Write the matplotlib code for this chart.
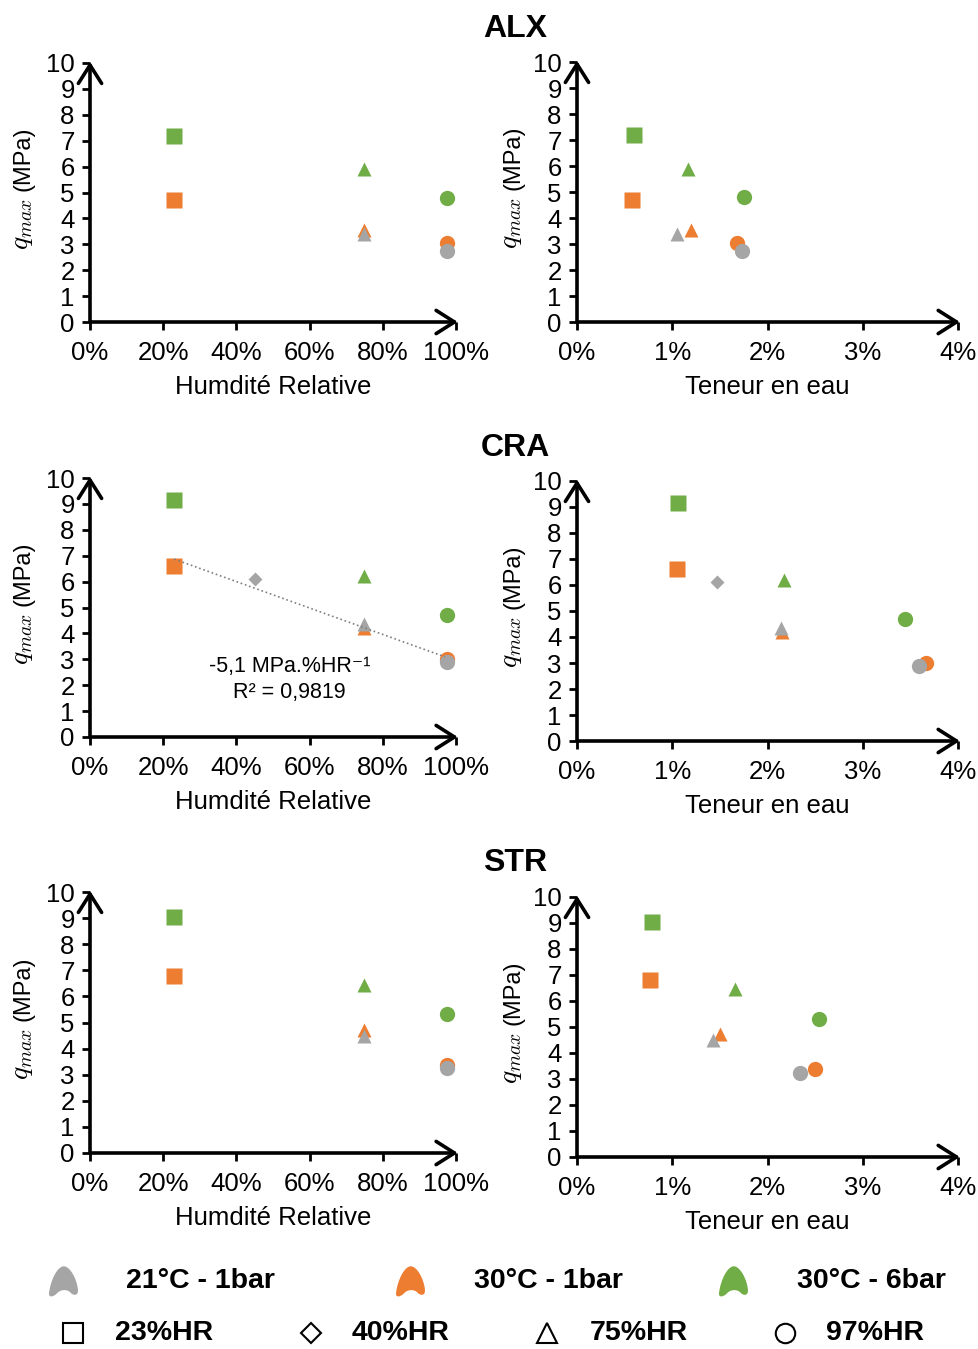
import numpy as np
import matplotlib.pyplot as plt
from matplotlib.path import Path
from matplotlib.ticker import PercentFormatter, MultipleLocator

plt.rcParams['font.family'] = ['Liberation Sans', 'DejaVu Sans']

nan = np.nan

# Series definitions
materials = ['ALX', 'CRA', 'STR']
conditions = ['21°C - 1bar', '30°C - 1bar', '30°C - 6bar']
condition_colors = ['#A5A5A5', '#ED7D31', '#70AD47']
hr_labels = ['23%HR', '40%HR', '75%HR', '97%HR']
hr_markers = ['s', 'D', '^', 'o']
hr_values = [0.23, 0.45, 0.75, 0.975]   # humidité relative measured

# q_max (MPa) : rows = conditions (21°C-1bar, 30°C-1bar, 30°C-6bar), cols = HR levels
q_alx = [[nan, nan, 3.4, 2.75], [4.7, nan, 3.55, 3.05], [7.2, nan, 5.9, 4.8]]
q_cra = [[nan, 6.1, 4.35, 2.9], [6.6, nan, 4.2, 3.0], [9.15, nan, 6.2, 4.7]]
q_str = [[nan, nan, 4.5, 3.25], [6.8, nan, 4.72, 3.37], [9.05, nan, 6.45, 5.32]]

# teneur en eau (%)
w_alx = [[nan, nan, 1.05, 1.73], [0.58, nan, 1.2, 1.68], [0.6, nan, 1.17, 1.75]]
w_cra = [[nan, 1.47, 2.14, 3.59], [1.05, nan, 2.15, 3.66], [1.06, nan, 2.17, 3.44]]
w_str = [[nan, nan, 1.43, 2.34], [0.77, nan, 1.5, 2.5], [0.79, nan, 1.66, 2.54]]

q_data = [q_alx, q_cra, q_str]
w_data = [w_alx, w_cra, w_str]

# linear trend on CRA vs HR
trend_slope = -5.1
trend_intercept = 8.04
trend_x = [0.23, 0.97]

marker_sizes = {'s': 11.5, 'D': 7.5, '^': 10.5, 'o': 11}

W, H = 979, 1349
fig = plt.figure(figsize=(W / 100, H / 100), dpi=100)


def px_axes(x0, x1, yb, yt):
    return fig.add_axes([x0 / W, 1 - yb / H, (x1 - x0) / W, (yb - yt) / H])


def style_axes(ax, xmax, xstep, xfmt, xlabel, ylab_dx):
    ax.set_xlim(0, xmax)
    ax.set_ylim(0, 10)
    ax.xaxis.set_major_locator(MultipleLocator(xstep))
    ax.yaxis.set_major_locator(MultipleLocator(1))
    ax.xaxis.set_major_formatter(xfmt)
    for s in ax.spines.values():
        s.set_visible(False)
    ax.tick_params(axis='both', direction='out', length=6, width=2, labelsize=18.5, color='k')
    ax.tick_params(axis='x', pad=8)
    ax.tick_params(axis='y', pad=5)
    arrow = dict(arrowstyle='->,head_length=0.6,head_width=0.38',
                 lw=2.6, color='k', mutation_scale=22, shrinkA=0, shrinkB=0)
    ax.annotate('', xy=(1.005, 0), xytext=(0, 0), xycoords='axes fraction', arrowprops=arrow)
    ax.annotate('', xy=(0, 1.005), xytext=(0, 0), xycoords='axes fraction', arrowprops=arrow)
    ax.set_xlabel(xlabel, fontsize=18.5, labelpad=7)
    # y label: math part is drawn larger than the unit, as in the original
    ax.annotate('(MPa)', xy=(0, 0.63), xycoords='axes fraction', xytext=(ylab_dx, 0),
                textcoords='offset pixels', rotation=90, ha='center', va='center', fontsize=17)
    ax.annotate('$q_{max}$', xy=(0, 0.38), xycoords='axes fraction', xytext=(ylab_dx - 2, 0),
                textcoords='offset pixels', rotation=90, ha='center', va='center', fontsize=20,
                math_fontfamily='cm')
    ax.patch.set_alpha(0)


def scatter_series(ax, xs_by_cond, q_by_cond):
    # draw green, then orange, then grey on top
    for c in [2, 1, 0]:
        for k, m in enumerate(hr_markers):
            x = xs_by_cond[c][k]
            y = q_by_cond[c][k]
            if np.isnan(x) or np.isnan(y):
                continue
            ax.plot(x, y, marker=m, ms=marker_sizes[m], color=condition_colors[c],
                    mec='none', ls='none', clip_on=False, zorder=3)


boxes = [
    ((90, 456, 322, 63), (577, 958, 322, 62)),
    ((90, 456, 737, 478), (577, 958, 741, 481)),
    ((90, 456, 1153, 892), (577, 958, 1157, 897)),
]
title_y = [29, 448, 863]

for i, mat in enumerate(materials):
    lbox, rbox = boxes[i]
    axl = px_axes(*lbox)
    axr = px_axes(*rbox)
    style_axes(axl, 1.0, 0.2, PercentFormatter(1, decimals=0), 'Humdité Relative', -66)
    style_axes(axr, 4.0, 1.0, PercentFormatter(100, decimals=0), 'Teneur en eau', -64)

    hr_by_cond = [[hr_values[k] if not np.isnan(q_data[i][c][k]) else nan for k in range(4)]
                  for c in range(3)]
    scatter_series(axl, hr_by_cond, q_data[i])
    scatter_series(axr, w_data[i], q_data[i])

    fig.text(515 / W, 1 - title_y[i] / H, mat, ha='center', va='center',
             fontsize=23, fontweight='bold')

    if mat == 'CRA':
        tx = np.array(trend_x)
        axl.plot(tx, trend_slope * tx + trend_intercept, ls=':', color='#7f7f7f',
                 lw=1.2, zorder=4)
        axl.text(0.545, 2.72, '-5,1 MPa.%HR\u207b\u00b9', ha='center', va='center', fontsize=15.5)
        axl.text(0.545, 1.72, 'R² = 0,9819', ha='center', va='center', fontsize=15.5)

# Legend (drawn on an overlay in pixel coordinates)
lax = fig.add_axes([0, 0, 1, 1])
lax.set_xlim(0, W)
lax.set_ylim(H, 0)
lax.axis('off')

blob = Path(
    [(-0.95, -0.75),
     (-0.85, 0.1), (-0.4, 1.0), (0.02, 1.0),
     (0.45, 1.0), (0.9, 0.1), (0.95, -0.55),
     (0.98, -0.95), (0.65, -0.95), (0.45, -0.72),
     (0.25, -0.5), (-0.2, -0.5), (-0.45, -0.8),
     (-0.7, -1.05), (-1.0, -1.05), (-0.95, -0.75),
     (-0.95, -0.75)],
    [Path.MOVETO] + [Path.CURVE4] * 15 + [Path.CLOSEPOLY])

legend_cond_x = [(63, 126), (410, 474), (733, 797)]
for (mx, tx), lab, col in zip(legend_cond_x, conditions, condition_colors):
    lax.plot(mx, 1281, marker=blob, ms=23, color=col, mec='none', ls='none')
    lax.text(tx, 1281, lab, ha='left', va='center', fontsize=20.5, fontweight='bold')

legend_hr_x = [(73, 115), (311, 352), (547, 590), (785, 826)]
legend_hr_ms = {'s': 14, 'D': 10.5, '^': 14, 'o': 14}
for (mx, tx), lab, m in zip(legend_hr_x, hr_labels, hr_markers):
    lax.plot(mx, 1333, marker=m, ms=legend_hr_ms[m], mfc='white', mec='k', mew=1.5, ls='none')
    lax.text(tx, 1333, lab, ha='left', va='center', fontsize=20.5, fontweight='bold')

fig.savefig('out.png', dpi=100)
